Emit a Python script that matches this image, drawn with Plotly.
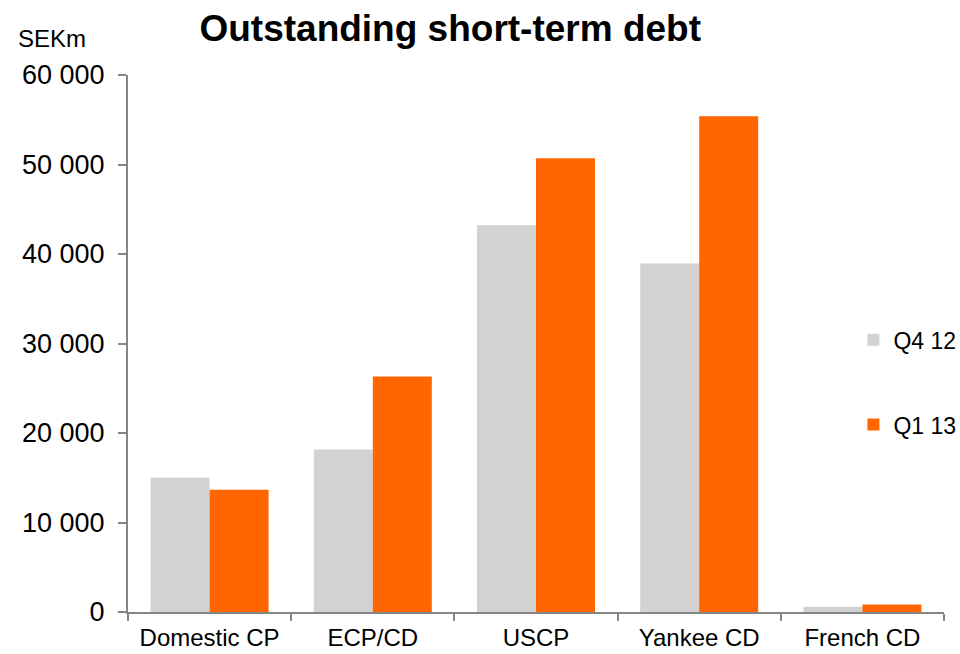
import plotly.graph_objects as go

categories = ["Domestic CP", "ECP/CD", "USCP", "Yankee CD", "French CD"]
q4_12 = [15000, 18150, 43200, 38950, 600]
q1_13 = [13650, 26300, 50700, 55400, 850]

AXIS_GREY = "#868686"
FONT = "Liberation Sans, Arial, sans-serif"

fig = go.Figure()
fig.add_trace(go.Bar(name="Q4 12", x=categories, y=q4_12,
                     marker=dict(color="#D3D2D0", line=dict(width=0)),
                     legend="legend", showlegend=True))
fig.add_trace(go.Bar(name="Q1 13", x=categories, y=q1_13,
                     marker=dict(color="#FF6600", line=dict(width=0)),
                     legend="legend2", showlegend=True))

legend_common = dict(xanchor="left", yanchor="middle", bgcolor="rgba(0,0,0,0)",
                     font=dict(family=FONT, size=23, color="#000000"),
                     itemwidth=30, borderwidth=0)

fig.update_layout(
    width=960, height=654,
    margin=dict(l=128, r=16, t=75, b=42, autoexpand=False),
    paper_bgcolor="white", plot_bgcolor="white",
    showlegend=True,
    separators=". ",
    barmode="group", bargap=0.277, bargroupgap=0,
    font=dict(family=FONT, color="#000000"),
    title=dict(text="<b>Outstanding short-term debt</b>", x=0.469, xanchor="center",
               y=0.957, yanchor="middle",
               font=dict(family=FONT, size=37, color="#000000")),
    legend=dict(x=0.889, y=0.507, **legend_common),
    legend2=dict(x=0.889, y=0.349, **legend_common),
    xaxis=dict(type="category", showline=True, linecolor=AXIS_GREY, linewidth=2,
               ticks="outside", tickson="boundaries", ticklen=7, tickwidth=2,
               tickcolor=AXIS_GREY, showgrid=False, automargin=False,
               ticklabelstandoff=3,
               tickfont=dict(family=FONT, size=24, color="#000000")),
    yaxis=dict(range=[0, 60000], dtick=10000, tickformat=",d",
               showline=True, linecolor=AXIS_GREY, linewidth=2,
               ticks="outside", ticklen=8, tickwidth=2, tickcolor=AXIS_GREY,
               showgrid=False, zeroline=False, automargin=False,
               ticklabelstandoff=8,
               tickfont=dict(family=FONT, size=27, color="#000000")),
    annotations=[dict(text="SEKm", xref="paper", yref="paper",
                      x=-0.137, y=1.068, xanchor="left", yanchor="middle",
                      showarrow=False,
                      font=dict(family=FONT, size=24, color="#000000"))],
)

fig.write_html("out.html")
